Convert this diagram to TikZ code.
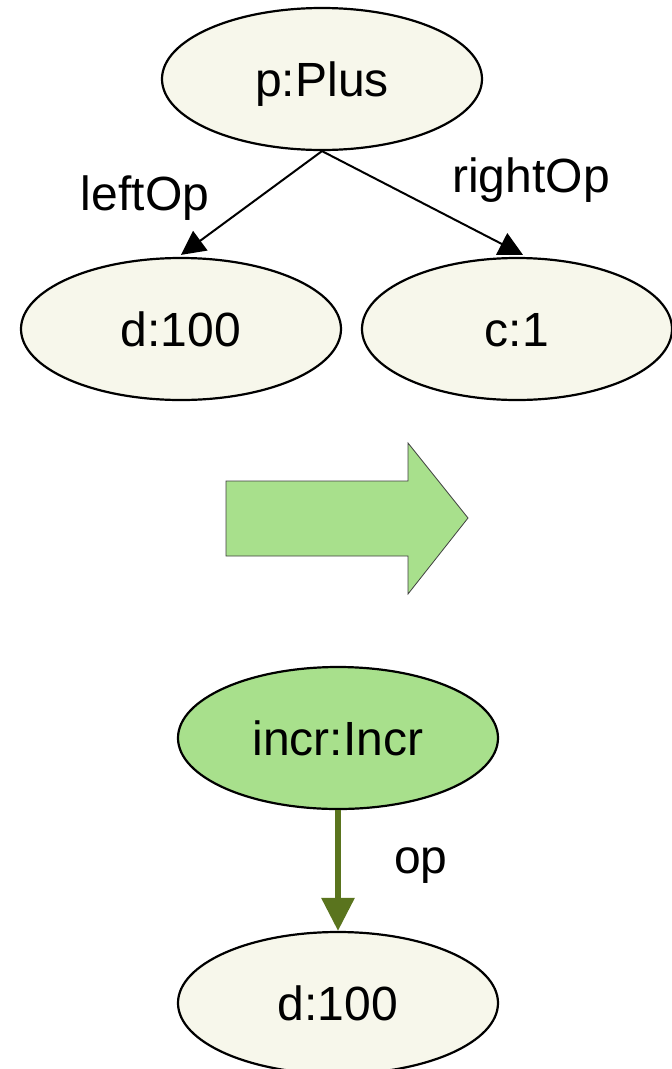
\documentclass[tikz,border=0pt]{standalone}
\usepackage{fontspec}
\setmainfont{Liberation Sans}
\usetikzlibrary{shapes.geometric,arrows.meta}
\definecolor{beige}{HTML}{F7F7EB}
\definecolor{lightgreen}{HTML}{A8E08C}
\definecolor{darkgreen}{HTML}{5A741E}
\begin{document}
\begin{tikzpicture}[x=1pt,y=-1pt,
  every node/.style={font=\fontsize{48}{58}\selectfont},
  obj/.style={ellipse,draw=black,line width=2.2pt,fill=beige,minimum width=320pt,minimum height=142pt,inner sep=0pt,text height=34pt,text depth=0pt},
  objgreen/.style={obj,fill=lightgreen},
  edge/.style={draw=black,line width=2pt,-{Triangle[length=24pt,width=24pt]}},
  opedge/.style={draw=darkgreen,line width=6pt,-{Triangle[length=33pt,width=32pt]}},
  lbl/.style={anchor=base,inner sep=0pt},
  bigarrow/.style={fill=lightgreen,draw=black!75,line width=0.8pt,line join=miter}
]
\useasboundingbox (0,0) rectangle (672,1069);
\fill[white] (0,0) rectangle (672,1069);

% top graph
\node[obj] (p) at (322,79) {p:Plus};
\node[obj] (d1) at (181,329) {d:100};
\node[obj,minimum width=310pt] (c1) at (517,329) {c:1};
\draw[edge] (p.south) -- ([yshift=2pt]d1.north);
\draw[edge] (p.south) -- ([xshift=6pt,yshift=2pt]c1.north);
\node[lbl] (lleft) at (145,210) {leftOp};
\node[lbl] (lright) at (531,192) {rightOp};

% big transformation arrow
\draw[bigarrow] (226,481) -- (408,481) -- (408,443) -- (468,518) -- (408,594) -- (408,556) -- (226,556) -- cycle;

% bottom graph
\node[objgreen] (incr) at (338,738) {incr:Incr};
\node[obj] (d2) at (338,1003) {d:100};
\draw[opedge] (incr.south) -- (d2.north);
\node[lbl] (lop) at (421,873) {op};
\end{tikzpicture}
\end{document}
